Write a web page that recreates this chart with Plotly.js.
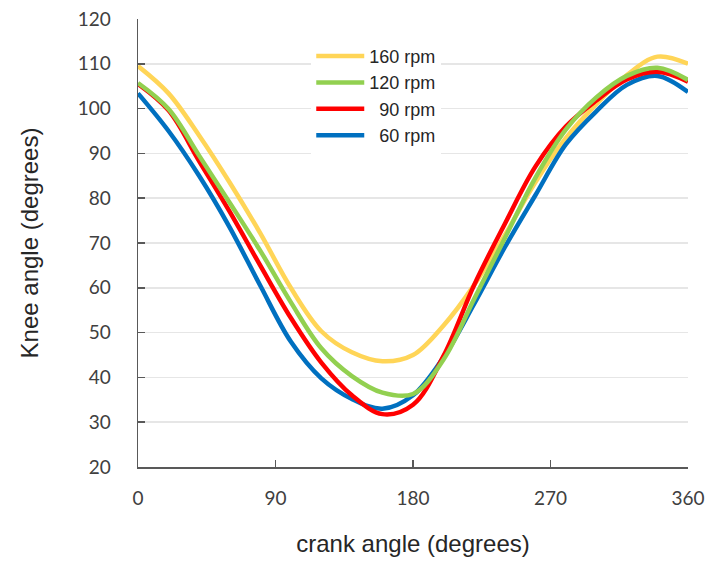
<!DOCTYPE html>
<html>
<head>
<meta charset="utf-8">
<script src="https://cdn.plot.ly/plotly-3.0.1.min.js"></script>
<style>html,body{margin:0;padding:0;background:#fff;}#chart{width:709px;height:562px;}</style>
</head>
<body>
<div id="chart"></div>
<script>
// crank angle (degrees)
var crank = [0, 20, 40, 60, 80, 100, 120, 140, 160, 180, 200, 220, 240, 260, 280, 300, 320, 340, 360];
// knee angle (degrees)
var knee160 = [109.5, 103.4, 94.0, 83.5, 72.2, 60.0, 50.3, 45.6, 43.6, 45.0, 51.6, 60.6, 71.7, 83.5, 93.4, 101.0, 107.5, 111.6, 110.0];
var knee120 = [105.7, 99.9, 89.5, 79.0, 68.3, 56.8, 46.5, 40.3, 36.6, 36.3, 44.0, 57.5, 71.0, 84.5, 95.3, 102.5, 107.3, 109.1, 106.4];
var knee90  = [105.5, 99.6, 88.3, 77.0, 65.0, 53.3, 43.3, 36.0, 31.8, 33.9, 44.8, 60.6, 74.2, 87.0, 96.0, 101.8, 106.5, 108.2, 106.0];
var knee60  = [103.4, 95.0, 85.0, 73.5, 60.5, 48.0, 39.8, 35.2, 33.0, 36.0, 44.5, 56.4, 69.0, 80.6, 92.0, 99.4, 105.3, 107.3, 103.7];

var names = ['160 rpm', '120 rpm', '\u00a0\u00a090 rpm', '\u00a0\u00a060 rpm'];
var xTicks = [0, 90, 180, 270, 360];
var yTicks = [20, 30, 40, 50, 60, 70, 80, 90, 100, 110, 120];

function tr(y, name, color, rank) {
  return {x: crank, y: y, name: name, type: 'scatter', mode: 'lines',
    line: {color: color, width: 4.5, shape: 'spline', smoothing: 1},
    legendrank: rank, hoverinfo: 'skip'};
}

var data = [
  tr(knee160, names[0], '#FFD557', 1),
  tr(knee60, names[3], '#0070C0', 4),
  tr(knee90, names[2], '#FF0000', 3),
  tr(knee120, names[1], '#92D050', 2)
];

var layout = {
  width: 709, height: 562,
  margin: {l: 138, r: 21, t: 19, b: 95},
  paper_bgcolor: '#ffffff', plot_bgcolor: '#ffffff',
  showlegend: true,
  legend: {x: 0.315, y: 0.958, xanchor: 'left', yanchor: 'top', bgcolor: '#ffffff',
    font: {family: 'Liberation Sans, Arial, sans-serif', size: 18, color: '#262626'},
    itemwidth: 48, traceorder: 'normal'},
  xaxis: {
    range: [0, 360], tickvals: xTicks, ticktext: xTicks.map(String),
    showgrid: false, zeroline: false,
    showline: true, linecolor: '#595959', linewidth: 1.5,
    ticks: 'inside', ticklen: 7, tickwidth: 1.5, tickcolor: '#595959',
    ticklabelstandoff: 14,
    tickfont: {family: 'Lato, sans-serif', size: 19, color: '#404040'},
    title: {text: 'crank angle (degrees)', standoff: 27,
      font: {family: 'Liberation Sans, Arial, sans-serif', size: 24, color: '#262626'}}
  },
  yaxis: {
    range: [20, 120], tickvals: yTicks, ticktext: yTicks.map(String),
    showgrid: true, gridcolor: '#e6e6e6', gridwidth: 1.5, zeroline: false,
    showline: true, linecolor: '#595959', linewidth: 1.5,
    ticks: 'inside', ticklen: 7, tickwidth: 1.5, tickcolor: '#595959',
    ticklabelstandoff: 22,
    tickfont: {family: 'Lato, sans-serif', size: 19, color: '#404040'},
    title: {text: 'Knee angle (degrees)', standoff: 32,
      font: {family: 'Liberation Sans, Arial, sans-serif', size: 24, color: '#262626'}}
  }
};

Plotly.newPlot('chart', data, layout, {staticPlot: true, displayModeBar: false});
</script>
</body>
</html>
